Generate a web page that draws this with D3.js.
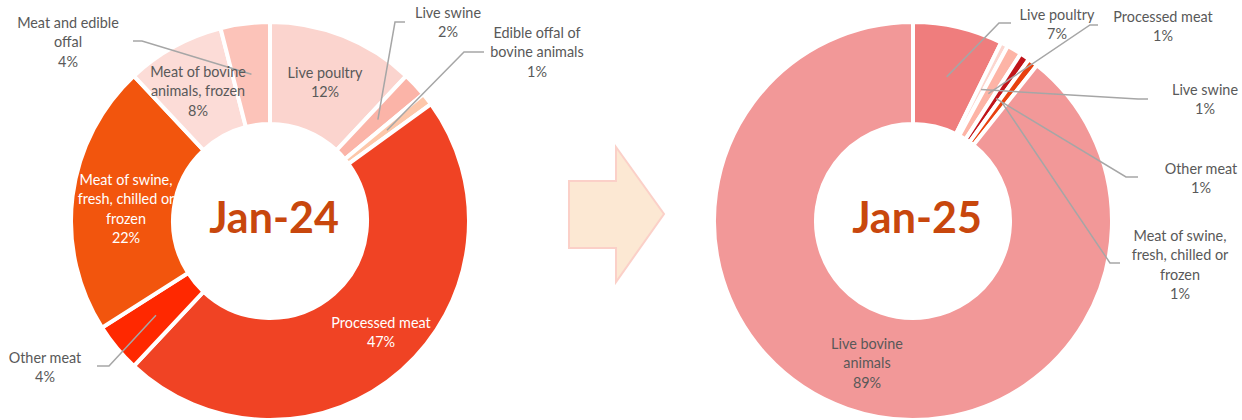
<!DOCTYPE html>
<html>
<head>
<meta charset="utf-8">
<script src="https://cdn.jsdelivr.net/npm/d3@7"></script>
<style>
  body { margin: 0; background: #fff; }
  svg text { font-family: Lato, 'Noto Sans', sans-serif; }
</style>
</head>
<body>
<div id="chart"></div>
<script>
// Jan-24 composition
const categories24 = ['Live poultry', 'Live swine', 'Edible offal of bovine animals', 'Processed meat',
    'Other meat', 'Meat of swine, fresh, chilled or frozen', 'Meat of bovine animals, frozen', 'Meat and edible offal'];
const values24 = [12, 2, 1, 47, 4, 22, 8, 4];
const colors24 = ['#fbd4ce', '#fbb4a8', '#fdc7aa', '#f04324', '#ff2800', '#f2550d', '#fcdcd7', '#fcc3b9'];

// Jan-25 composition
const categories25 = ['Live poultry', 'Live swine', 'Processed meat', 'Other meat',
    'Meat of swine, fresh, chilled or frozen', 'Live bovine animals'];
const values25 = [7.3, 0.6, 1.2, 0.8, 0.8, 89.3];
const colors25 = ['#ef7d7d', '#fcd6cf', '#fdb4a6', '#c0141a', '#e8410f', '#f29898'];

const titles = ['Jan-24', 'Jan-25'];

// how the category names wrap in the labels
const wraps = {
    'Edible offal of bovine animals': ['Edible offal of', 'bovine animals'],
    'Meat of swine, fresh, chilled or frozen': ['Meat of swine,', 'fresh, chilled or', 'frozen'],
    'Meat of bovine animals, frozen': ['Meat of bovine', 'animals, frozen'],
    'Meat and edible offal': ['Meat and edible', 'offal'],
    'Live bovine animals': ['Live bovine', 'animals']
};

// label placement: first line centre, text colour, leader (elbow, end)
const layout24 = {
    'Live poultry': {x: 325, y: 73},
    'Live swine': {x: 448, y: 13, lead: [[395, 22], [405, 22]]},
    'Edible offal of bovine animals': {x: 537, y: 33, lead: [[464, 52], [484, 52]]},
    'Processed meat': {x: 381, y: 323, fill: '#fff'},
    'Other meat': {x: 45, y: 358, lead: [[109, 366], [97, 366]]},
    'Meat of swine, fresh, chilled or frozen': {x: 126, y: 180, fill: '#fff'},
    'Meat of bovine animals, frozen': {x: 198, y: 72},
    'Meat and edible offal': {x: 68, y: 23, lead: [[142, 41], [133, 41]]}
};
const layout25 = {
    'Live poultry': {x: 1057, y: 15, lead: [[999, 23], [1011, 23]]},
    'Live swine': {x: 1205, y: 90, lead: [[1138, 99], [1148, 99]]},
    'Processed meat': {x: 1163, y: 17, lead: [[1090, 25], [1098, 25]]},
    'Other meat': {x: 1201, y: 169, lead: [[1126, 177], [1138, 177]]},
    'Meat of swine, fresh, chilled or frozen': {x: 1180, y: 236, lead: [[1110, 263], [1120, 263]]},
    'Live bovine animals': {x: 867, y: 344}
};

const width = 1242;
const height = 420;
const lineGap = 19.4;

const svg = d3.select('#chart')
    .append('svg')
    .attr('width', width)
    .attr('height', height);

// arrow between the two donuts
svg.append('path')
    .attr('d', 'M569,181 L616,181 L616,147 L664,214 L616,282 L616,248 L569,248 Z')
    .attr('fill', '#fce8d3')
    .attr('stroke', '#fbd0c8')
    .attr('stroke-width', 2);

function drawDonut(cx, cy, cats, vals, colors, title, layout) {
    const total = d3.sum(vals);
    const pct = d3.format('.0%');
    const arcs = d3.pie().sort(null).value(d => d)(vals);
    const arc = d3.arc().innerRadius(97).outerRadius(199);

    const g = svg.append('g').attr('transform', `translate(${cx},${cy})`);

    g.selectAll('path.slice')
        .data(arcs)
        .join('path')
        .attr('class', 'slice')
        .attr('d', arc)
        .attr('fill', (d, i) => colors[i])
        .attr('stroke', '#fff')
        .attr('stroke-width', 4);

    // leader lines from the slice middle to the outside labels
    arcs.forEach((d, i) => {
        const lab = layout[cats[i]];
        if (!lab.lead) return;
        const c = arc.centroid(d);
        const pts = [[cx + c[0], cy + c[1]], ...lab.lead];
        svg.append('path')
            .attr('d', d3.line()(pts))
            .attr('fill', 'none')
            .attr('stroke', '#a6a6a6')
            .attr('stroke-width', 1.5);
    });

    // labels
    arcs.forEach((d, i) => {
        const lab = layout[cats[i]];
        const lines = (wraps[cats[i]] || [cats[i]]).concat(pct(vals[i] / total));
        const t = svg.append('text')
            .attr('text-anchor', 'middle')
            .attr('font-size', 14.4)
            .attr('fill', lab.fill || '#595959');
        lines.forEach((s, k) => {
            t.append('tspan')
                .attr('x', lab.x)
                .attr('y', lab.y + k * lineGap)
                .attr('dy', '0.35em')
                .text(s);
        });
    });

    svg.append('text')
        .attr('x', cx + 4)
        .attr('y', cy + 12)
        .attr('text-anchor', 'middle')
        .attr('font-size', 43)
        .attr('font-weight', 'bold')
        .attr('fill', '#c8470d')
        .text(title);
}

drawDonut(270, 221, categories24, values24, colors24, titles[0], layout24);
drawDonut(913, 221, categories25, values25, colors25, titles[1], layout25);
</script>
</body>
</html>
